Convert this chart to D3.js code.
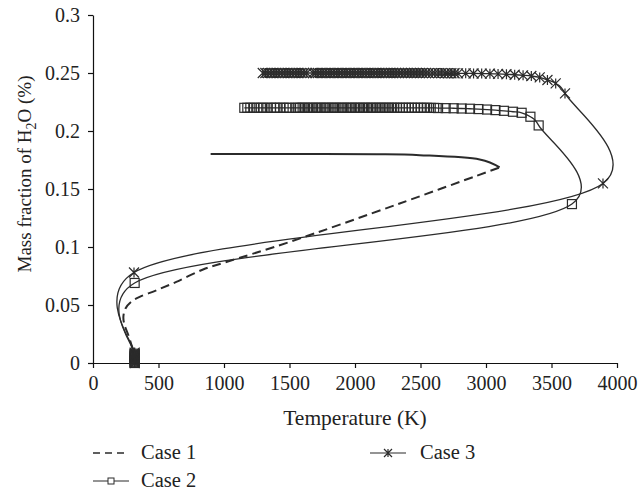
<!DOCTYPE html>
<html>
<head>
<meta charset="utf-8">
<script src="https://cdn.jsdelivr.net/npm/d3@7"></script>
<style>
  body { margin: 0; background: #fff; }
  text { font-family: "Liberation Serif", "Times New Roman", serif; fill: #222; }
</style>
</head>
<body>
<div id="wrapper"></div>
<script>
// tick labels
const xTicks = [0, 500, 1000, 1500, 2000, 2500, 3000, 3500, 4000];
const yTicks = [0, 0.05, 0.1, 0.15, 0.2, 0.25, 0.3];
const yTickLabels = ["0", "0.05", "0.1", "0.15", "0.2", "0.25", "0.3"];
const seriesNames = ["Case 1", "Case 2", "Case 3"];

// Case 1 : [temperature K, mass fraction]
const case1 = [
  [318, 0.0], [306, 0.010], [276, 0.022], [240, 0.033], [232, 0.040], [248, 0.047],
  [290, 0.0527], [356, 0.057], [484, 0.0627], [636, 0.0699], [840, 0.0806],
  [1018, 0.0871], [1502, 0.1044], [2341, 0.1375], [3104, 0.1686],
  [2952, 0.1755], [2494, 0.1792], [2163, 0.1800], [1500, 0.1802], [898, 0.1802]
];

// Case 2
const case2 = [
  [318, 0.0], [318, 0.001], [318, 0.002], [318, 0.003], [318, 0.004], [318, 0.005],
  [318, 0.006], [318, 0.007], [318, 0.008],
  [318, 0.069], [3656, 0.137], [3402, 0.2048], [3339, 0.2123], [3272, 0.2157],
  [3206, 0.2166], [3137, 0.2174], [3072, 0.2180], [3008, 0.2185], [2942, 0.2189],
  [2878, 0.2192], [2814, 0.2194], [2753, 0.2196], [2692, 0.2197], [2634, 0.2198],
  [2604, 0.2199], [2578, 0.2199], [2551, 0.22], [2527, 0.22], [2502, 0.22], [2479, 0.22],
  [2455, 0.22], [2433, 0.22], [2410, 0.22], [2388, 0.22], [2365, 0.22], [2343, 0.22],
  [2321, 0.22], [2300, 0.22], [2281, 0.22], [2259, 0.22], [2240, 0.22], [2219, 0.22],
  [2201, 0.22], [2180, 0.22], [2161, 0.22], [2139, 0.22], [2121, 0.22], [2099, 0.22],
  [2080, 0.22], [2061, 0.22], [2039, 0.22], [2020, 0.22], [2001, 0.22], [1979, 0.22],
  [1960, 0.22], [1941, 0.22], [1919, 0.22], [1900, 0.22], [1881, 0.22], [1859, 0.22],
  [1840, 0.22], [1821, 0.22], [1799, 0.22], [1780, 0.22], [1761, 0.22], [1739, 0.22],
  [1720, 0.22], [1701, 0.22], [1679, 0.22], [1660, 0.22], [1641, 0.22], [1619, 0.22],
  [1600, 0.22], [1581, 0.22], [1562, 0.22], [1545, 0.22], [1500, 0.22], [1478, 0.22],
  [1455, 0.22], [1428, 0.22], [1402, 0.22], [1384, 0.22], [1358, 0.22], [1331, 0.22],
  [1302, 0.22], [1281, 0.22], [1254, 0.22], [1229, 0.22], [1201, 0.22], [1178, 0.22],
  [1155, 0.22]
];

// Case 3
const case3 = [
  [318, 0.0], [318, 0.001], [318, 0.002], [318, 0.003], [318, 0.004], [318, 0.005],
  [318, 0.006], [318, 0.007], [318, 0.008], [318, 0.009],
  [313, 0.078], [3893, 0.1548], [3603, 0.2324], [3532, 0.2410], [3469, 0.2440],
  [3410, 0.2462], [3346, 0.2474], [3283, 0.2480], [3219, 0.2485], [3156, 0.2489],
  [3092, 0.2492], [3030, 0.2494], [2967, 0.2495], [2905, 0.2496], [2845, 0.2497],
  [2786, 0.2497], [2760, 0.2498], [2736, 0.2498], [2709, 0.2498], [2686, 0.2498],
  [2660, 0.2499], [2637, 0.2499], [2611, 0.2499], [2589, 0.2499], [2563, 0.2499],
  [2541, 0.25], [2516, 0.25], [2494, 0.25], [2470, 0.25], [2448, 0.25], [2425, 0.25],
  [2402, 0.25], [2381, 0.25], [2358, 0.25], [2337, 0.25], [2315, 0.25], [2293, 0.25],
  [2272, 0.25], [2250, 0.25], [2229, 0.25], [2208, 0.25], [2187, 0.25], [2166, 0.25],
  [2146, 0.25], [2125, 0.25], [2104, 0.25], [2084, 0.25], [2063, 0.25], [2043, 0.25],
  [2022, 0.25], [2002, 0.25], [1982, 0.25], [1961, 0.25], [1941, 0.25], [1921, 0.25],
  [1900, 0.25], [1880, 0.25], [1860, 0.25], [1840, 0.25], [1819, 0.25], [1799, 0.25],
  [1779, 0.25], [1758, 0.25], [1738, 0.25], [1718, 0.25], [1698, 0.25], [1680, 0.25],
  [1632, 0.25], [1611, 0.25], [1590, 0.25], [1569, 0.25], [1548, 0.25], [1527, 0.25],
  [1506, 0.25], [1485, 0.25], [1463, 0.25], [1442, 0.25], [1421, 0.25], [1400, 0.25],
  [1379, 0.25], [1358, 0.25], [1337, 0.25], [1316, 0.25], [1296, 0.25]
];

const width = 638, height = 495;
const ink = "#2b2b2b";

const svg = d3.select("#wrapper").append("svg")
  .attr("width", width)
  .attr("height", height);

const xScale = d3.scaleLinear().domain([0, 4000]).range([93, 617]);
const yScale = d3.scaleLinear().domain([0, 0.3]).range([363, 15]);

// axes
const yAxis = d3.axisLeft(yScale)
  .tickValues(yTicks)
  .tickFormat((d, i) => yTickLabels[i])
  .tickSize(5).tickSizeOuter(0).tickPadding(8);
const gy = svg.append("g")
  .attr("transform", `translate(${xScale(0)},0)`)
  .call(yAxis);

const xAxis = d3.axisBottom(xScale)
  .tickValues(xTicks)
  .tickFormat(d3.format("d"))
  .tickSize(5).tickSizeOuter(0).tickPadding(8);
const gx = svg.append("g")
  .attr("transform", `translate(0,${yScale(0)})`)
  .call(xAxis);

[gx, gy].forEach(g => {
  g.selectAll("path, line").attr("stroke", "#111").attr("stroke-width", 1.2);
  g.selectAll("text").style("font-size", "20px").attr("fill", "#222");
});

// axis titles
svg.append("text")
  .attr("x", (xScale(0) + xScale(4000)) / 2)
  .attr("y", 425)
  .attr("text-anchor", "middle")
  .style("font-size", "21.5px")
  .text("Temperature (K)");

const yTitle = svg.append("text")
  .attr("transform", "translate(31,174) rotate(-90)")
  .attr("text-anchor", "middle")
  .style("font-size", "19px");
yTitle.append("tspan").text("Mass fraction of H");
yTitle.append("tspan").attr("dy", 5).style("font-size", "14px").text("2");
yTitle.append("tspan").attr("dy", -5).text("O (%)");

// curves (smoothed scatter lines)
const line = d3.line()
  .x(d => xScale(d[0]))
  .y(d => yScale(d[1]))
  .curve(d3.curveCatmullRom.alpha(0.25));

const plot = svg.append("g");

// case 1: dashed on the way up, the dense return branch draws solid
const iTurn = d3.maxIndex(case1, d => d[0]);
plot.append("path")
  .attr("d", line(case1.slice(0, iTurn + 1)))
  .attr("fill", "none").attr("stroke", ink)
  .attr("stroke-width", 2).attr("stroke-dasharray", "9,5");
plot.append("path")
  .attr("d", line(case1.slice(iTurn)))
  .attr("fill", "none").attr("stroke", ink)
  .attr("stroke-width", 2);

plot.append("path")
  .attr("d", line(case2))
  .attr("fill", "none").attr("stroke", ink).attr("stroke-width", 1.3);
plot.append("path")
  .attr("d", line(case3))
  .attr("fill", "none").attr("stroke", ink).attr("stroke-width", 1.3);

// markers
function star(s) {
  const h = s / 2;
  return `M0,${-h}V${h}M${-h},${-h}L${h},${h}M${-h},${h}L${h},${-h}`;
}

plot.selectAll(".sq").data(case2).join("rect")
  .attr("class", "sq")
  .attr("x", d => xScale(d[0]) - 4.5)
  .attr("y", d => yScale(d[1]) - 4.5)
  .attr("width", 9).attr("height", 9)
  .attr("fill", "none").attr("stroke", ink).attr("stroke-width", 1.2);

plot.selectAll(".st").data(case3).join("path")
  .attr("class", "st")
  .attr("transform", d => `translate(${xScale(d[0])},${yScale(d[1])})`)
  .attr("d", star(10))
  .attr("fill", "none").attr("stroke", ink).attr("stroke-width", 1.2);

// legend
const legend = svg.append("g");
const legendItems = [
  { name: seriesNames[0], x: 93, y: 453, kind: "dash" },
  { name: seriesNames[1], x: 93, y: 481, kind: "square" },
  { name: seriesNames[2], x: 370, y: 453, kind: "star" }
];
legendItems.forEach(it => {
  const g = legend.append("g").attr("transform", `translate(${it.x},${it.y})`);
  g.append("line")
    .attr("x1", 0).attr("x2", 36).attr("y1", 0).attr("y2", 0)
    .attr("stroke", ink)
    .attr("stroke-width", it.kind === "dash" ? 1.5 : 1.2)
    .attr("stroke-dasharray", it.kind === "dash" ? "7,5" : null);
  if (it.kind === "square") {
    g.append("rect").attr("x", 15).attr("y", -3).attr("width", 6).attr("height", 6)
      .attr("fill", "#fff").attr("stroke", ink).attr("stroke-width", 1);
  }
  if (it.kind === "star") {
    g.append("path").attr("transform", "translate(18,0)").attr("d", star(8))
      .attr("fill", "none").attr("stroke", ink).attr("stroke-width", 1.2);
  }
  g.append("text")
    .attr("x", it.kind === "star" ? 50 : 48)
    .attr("y", 6)
    .style("font-size", "20.5px")
    .text(it.name);
});
</script>
</body>
</html>
